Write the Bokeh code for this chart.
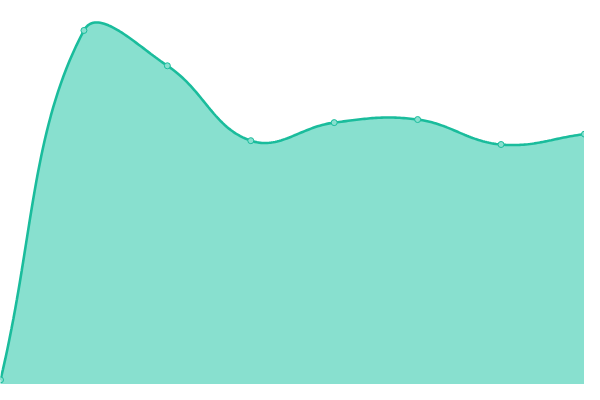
import numpy as np
from bokeh.plotting import figure
from bokeh.models import Range1d
from bokeh.embed import file_html
from bokeh.resources import INLINE

# data
x_vals = [0, 1, 2, 3, 4, 5, 6, 7]
y_vals = [1.2, 92.2, 83.0, 63.5, 68.2, 69.0, 62.5, 65.2]

W, H = 584, 384
X_MAX, Y_MAX = 7, 100
LINE = "#1abc9c"
FILL = "#88e0cf"

# Chart.js-like spline (tension 0.4), computed in screen-proportional space
sx, sy = W / X_MAX, H / Y_MAX
P = np.array([[x * sx, y * sy] for x, y in zip(x_vals, y_vals)])
t = 0.4
n = len(P)
cps = []
for i in range(n):
    prev = P[i - 1] if i > 0 else P[i]
    cur = P[i]
    nxt = P[i + 1] if i < n - 1 else P[i]
    d01 = np.hypot(*(cur - prev))
    d12 = np.hypot(*(nxt - cur))
    s = d01 + d12
    fa = t * d01 / s if s else 0
    fb = t * d12 / s if s else 0
    cps.append((cur - fa * (nxt - prev), cur + fb * (nxt - prev)))

xs, ys = [], []
for i in range(n - 1):
    p0, p3 = P[i], P[i + 1]
    p1, p2 = cps[i][1], cps[i + 1][0]
    for u in np.linspace(0, 1, 40, endpoint=(i == n - 2)):
        b = ((1 - u) ** 3) * p0 + 3 * ((1 - u) ** 2) * u * p1 + 3 * (1 - u) * u * u * p2 + u ** 3 * p3
        xs.append(b[0] / sx)
        ys.append(b[1] / sy)

p = figure(width=W, height=H, output_backend="svg", toolbar_location=None,
           x_range=Range1d(0, X_MAX), y_range=Range1d(0, Y_MAX),
           min_border=0, min_border_left=0, min_border_right=0,
           min_border_top=0, min_border_bottom=0)
p.axis.visible = False
p.grid.visible = False
p.outline_line_color = None
p.background_fill_color = "white"
p.border_fill_color = "white"

p.varea(x=xs, y1=0, y2=ys, fill_color=FILL, fill_alpha=1)
p.line(xs, ys, line_color=LINE, line_width=2.6)
p.scatter(x_vals, y_vals, size=6, fill_color=FILL, line_color=LINE, line_width=1)

open("out.html", "w").write(file_html(p, INLINE))
